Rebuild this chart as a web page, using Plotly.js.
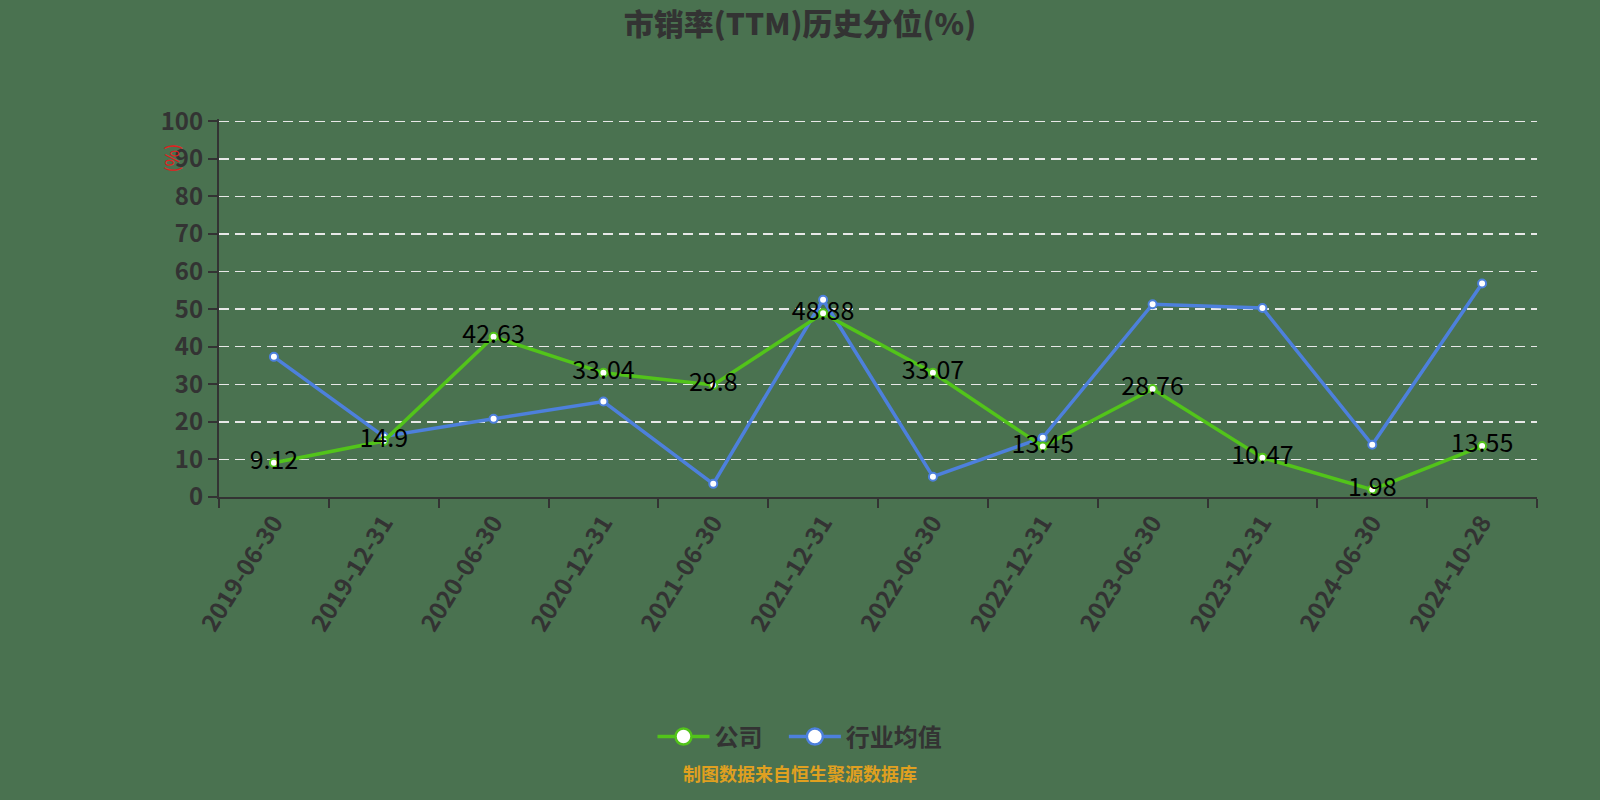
<!DOCTYPE html>
<html>
<head>
<meta charset="utf-8">
<script src="https://cdn.plot.ly/plotly-3.0.1.min.js"></script>
<style>
  html, body { margin: 0; padding: 0; background: #4a7250; }
  #chart { width: 1600px; height: 800px; }
</style>
</head>
<body>
<div id="chart"></div>
<script>
var dates = ['2019-06-30', '2019-12-31', '2020-06-30', '2020-12-31', '2021-06-30', '2021-12-31',
             '2022-06-30', '2022-12-31', '2023-06-30', '2023-12-31', '2024-06-30', '2024-10-28'];
var company = [9.12, 14.9, 42.63, 33.04, 29.8, 48.88, 33.07, 13.45, 28.76, 10.47, 1.98, 13.55];
var industry = [37.3, 16.1, 20.8, 25.4, 3.5, 52.5, 5.4, 15.8, 51.3, 50.3, 13.9, 56.8];
var yTicks = [0, 10, 20, 30, 40, 50, 60, 70, 80, 90, 100];

var green = '#52c41a';
var blue = '#4d80dc';
var bg = '#4a7250';
var font = '"Noto Sans CJK SC", "Noto Sans", sans-serif';

// plot area in pixels
var L = 219, R = 63, T = 119, B = 303;
var W = 1600, H = 800;
function px(x) { return (x - L) / (W - L - R); }
function py(y) { return (H - B - y) / (H - B - T); }

// real series, legend drawn by the two empty traces below (bigger symbols)
var data = [
    {
        x: dates,
        y: industry,
        name: '行业均值',
        type: 'scatter',
        mode: 'lines+markers',
        line: {color: blue, width: 3.5},
        marker: {size: 8, color: 'white', line: {color: blue, width: 2}},
        showlegend: false,
        hoverinfo: 'none',
    },
    {
        x: dates,
        y: company,
        name: '公司',
        type: 'scatter',
        mode: 'lines+markers+text',
        line: {color: green, width: 3.5},
        marker: {size: 8, color: 'white', line: {color: green, width: 2}},
        text: company.map(String),
        textposition: 'middle center',
        textfont: {size: 25, color: '#000', family: font},
        cliponaxis: false,
        showlegend: false,
        hoverinfo: 'none',
    },
    {
        x: [null], y: [null],
        name: '公司\u00a0\u00a0\u00a0',
        type: 'scatter',
        mode: 'lines+markers',
        line: {color: green, width: 3.5},
        marker: {size: 16, color: 'white', line: {color: green, width: 2.5}},
        hoverinfo: 'none',
    },
    {
        x: [null], y: [null],
        name: '行业均值',
        type: 'scatter',
        mode: 'lines+markers',
        line: {color: blue, width: 3.5},
        marker: {size: 16, color: 'white', line: {color: blue, width: 2.5}},
        hoverinfo: 'none',
    }
];

var layout = {
    width: W,
    height: H,
    paper_bgcolor: bg,
    plot_bgcolor: bg,
    font: {family: font, color: '#333'},
    margin: {l: L, r: R, t: T, b: B},
    title: {
        text: '市销率(TTM)历史分位(%)',
        font: {size: 30, color: '#333', family: font, weight: 900},
        xref: 'container', x: 0.5, xanchor: 'center',
        yref: 'container', y: 1 - 24 / H, yanchor: 'middle',
    },
    xaxis: {
        type: 'category',
        range: [-0.5, dates.length - 0.5],
        tickson: 'boundaries',
        ticks: 'outside',
        ticklen: 9,
        tickwidth: 2,
        tickcolor: '#333',
        showline: true,
        linecolor: '#333',
        linewidth: 2,
        showgrid: false,
        tickangle: -58,
        tickfont: {size: 24, color: '#333', family: font, weight: 'bold'},
        fixedrange: true,
    },
    yaxis: {
        range: [0, 100.6],
        tickvals: yTicks,
        ticks: 'outside',
        ticklen: 9,
        tickwidth: 2,
        tickcolor: '#333',
        showline: true,
        linecolor: '#333',
        linewidth: 2,
        showgrid: true,
        gridcolor: '#e8e8e8',
        gridwidth: 1.5,
        griddash: '10px,6px',
        zeroline: false,
        tickfont: {size: 24, color: '#333', family: font, weight: 'bold'},
        fixedrange: true,
    },
    showlegend: true,
    legend: {
        orientation: 'h',
        xref: 'container', x: 0.5, xanchor: 'center',
        yref: 'container', y: 1 - 737 / H, yanchor: 'middle',
        font: {size: 24, color: '#333', family: font, weight: 'bold'},
        itemwidth: 52,
        bgcolor: 'rgba(0,0,0,0)',
    },
    annotations: [
        {
            text: '(%)',
            xref: 'paper', yref: 'paper',
            x: px(155), y: py(142),
            textangle: -90,
            showarrow: false,
            font: {size: 18, color: '#e02020', family: font},
        },
        {
            text: '制图数据来自恒生聚源数据库',
            xref: 'paper', yref: 'paper',
            x: px(800), y: py(788),
            showarrow: false,
            font: {size: 18, color: '#e0a020', family: font, weight: 'bold'},
        }
    ],
};

Plotly.newPlot('chart', data, layout, {displayModeBar: false, staticPlot: true});
</script>
</body>
</html>
